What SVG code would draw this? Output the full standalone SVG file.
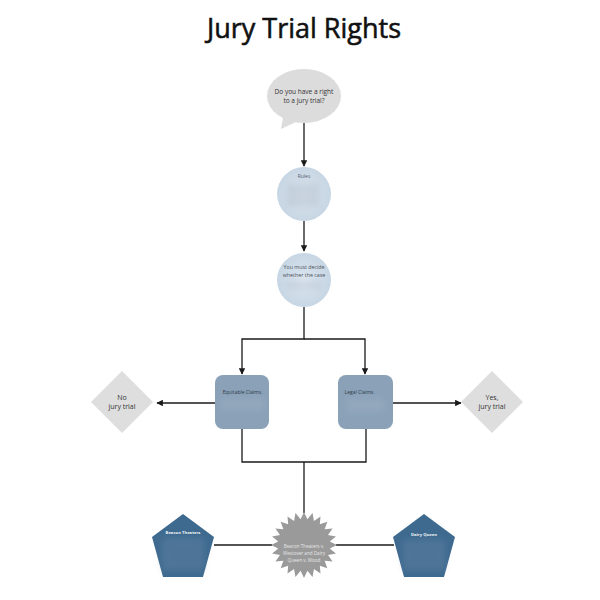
<svg xmlns="http://www.w3.org/2000/svg" width="600" height="600" viewBox="0 0 600 600">
<style>
.t{font-family:"Open Sans","Liberation Sans",sans-serif;text-anchor:middle}
.dk{fill:#333}
.wt{fill:#f4f6f8}
.ln{stroke:#1a1a1a;stroke-width:1.3;fill:none}
.blur{filter:url(#bl)}
</style>
<defs>
<marker id="ah" viewBox="0 0 10 10" refX="9" refY="5" markerWidth="5" markerHeight="5" orient="auto">
<path d="M0,0 L10,5 L0,10 z" fill="#1a1a1a"/>
</marker>
<radialGradient id="cg" cx="50%" cy="50%" r="50%">
<stop offset="0" stop-color="#dbe5ee"/>
<stop offset="1" stop-color="#c7d6e4"/>
</radialGradient>
<filter id="bl" x="-30%" y="-60%" width="160%" height="220%"><feGaussianBlur stdDeviation="3"/></filter>
</defs>
<rect width="600" height="600" fill="#ffffff"/>
<text class="t" x="304" y="38" font-size="27" fill="#111" stroke="#111" stroke-width="0.55">Jury Trial Rights</text>

<g id="connectors">
<line class="ln" x1="304" y1="123" x2="304" y2="166" marker-end="url(#ah)"/>
<line class="ln" x1="304" y1="221" x2="304" y2="251" marker-end="url(#ah)"/>
<polyline class="ln" points="304,307 304,339 242,339 242,374" marker-end="url(#ah)"/>
<polyline class="ln" points="304,339 365,339 365,374" marker-end="url(#ah)"/>
<line class="ln" x1="215" y1="403" x2="157" y2="403" marker-end="url(#ah)"/>
<line class="ln" x1="393" y1="403" x2="461" y2="403" marker-end="url(#ah)"/>
<polyline class="ln" points="242,429 242,462 366,462 366,429"/>
<line class="ln" x1="304" y1="462" x2="304" y2="513"/>
<line class="ln" x1="214" y1="545" x2="272" y2="545"/>
<line class="ln" x1="336" y1="545" x2="394" y2="545"/>
</g>

<g id="start">
<ellipse cx="304" cy="96" rx="37" ry="27" fill="#dcdcdc"/>
<path d="M284,112 L281,129 L298,121 z" fill="#dcdcdc"/>
<text class="t dk" x="304" y="94" font-size="6.5">Do you have a right</text>
<text class="t dk" x="304" y="103" font-size="6.5">to a jury trial?</text>
</g>

<g id="rules">
<circle cx="304" cy="194" r="27" fill="url(#cg)"/>
<text class="t" x="304" y="178" font-size="5" fill="#56606b">Rules</text>
<rect class="blur" x="287" y="184" width="32" height="22" fill="#aab6c2" opacity="0.35"/>
</g>

<g id="decide">
<circle cx="304" cy="280" r="27" fill="url(#cg)"/>
<text class="t" x="304" y="269" font-size="5.3" fill="#4a525a">You must decide</text>
<text class="t" x="304" y="277" font-size="5.3" fill="#4a525a">whether the case</text>
<rect class="blur" x="286" y="282" width="36" height="6" fill="#aab6c2" opacity="0.35"/>
</g>

<g id="equitable">
<rect x="215" y="375" width="54" height="54" rx="8" fill="#8aa1b8"/>
<text class="t" x="242" y="394" font-size="5" fill="#2e3a47">Equitable Claims</text>
<rect class="blur" x="220" y="398" width="44" height="12" fill="#9eb0c2" opacity="0.45"/>
</g>

<g id="legal">
<rect x="338" y="375" width="55" height="54" rx="8" fill="#8aa1b8"/>
<text class="t" x="359" y="394" font-size="5" fill="#2e3a47">Legal Claims</text>
<rect class="blur" x="346" y="398" width="38" height="14" fill="#9eb0c2" opacity="0.45"/>
</g>

<g id="no">
<polygon points="122,371 153,402 122,433 91,402" fill="#dedede"/>
<text class="t dk" x="122" y="400" font-size="7">No</text>
<text class="t dk" x="122" y="409" font-size="7">jury trial</text>
</g>

<g id="yes">
<polygon points="492,371 523,402 492,433 461,402" fill="#dedede"/>
<text class="t dk" x="492" y="400" font-size="7">Yes,</text>
<text class="t dk" x="492" y="409" font-size="7">jury trial</text>
</g>

<g id="beacon">
<polygon points="183,514 214,537 203,577 163,577 152,537" fill="#3f6a8f"/>
<text class="t wt" x="183" y="534" font-size="4.2" font-weight="bold">Beacon Theaters</text>
<rect class="blur" x="162" y="538" width="42" height="32" fill="#6a8cab" opacity="0.35"/>
</g>

<g id="case">
<polygon fill="#9a9a9a" points="304,512 307.39,519.22 312.54,513.12 313.95,520.98 320.5,516.42 319.83,524.37 327.33,521.67 324.63,529.17 332.58,528.5 328.02,535.05 335.88,536.46 329.78,541.61 337,545 329.78,548.39 335.88,553.54 328.02,554.95 332.58,561.5 324.63,560.83 327.33,568.33 319.83,565.63 320.5,573.58 313.95,569.02 312.54,576.88 307.39,570.78 304,578 300.61,570.78 295.46,576.88 294.05,569.02 287.5,573.58 288.17,565.63 280.67,568.33 283.37,560.83 275.42,561.5 279.98,554.95 272.12,553.54 278.22,548.39 271,545 278.22,541.61 272.12,536.46 279.98,535.05 275.42,528.5 283.37,529.17 280.67,521.67 288.17,524.37 287.5,516.42 294.05,520.98 295.46,513.12 300.61,519.22"/>
<text class="t" x="304" y="548" font-size="4.6" fill="#e8e8e8">Beacon Theaters v.</text>
<text class="t" x="304" y="555" font-size="4.6" fill="#e8e8e8">Westover and Dairy</text>
<text class="t" x="304" y="562" font-size="4.6" fill="#e8e8e8">Queen v. Wood</text>
</g>

<g id="dairy">
<polygon points="424,514 455,537 444,577 404,577 393,537" fill="#3f6a8f"/>
<text class="t wt" x="424" y="536" font-size="4.2" font-weight="bold">Dairy Queen</text>
<rect class="blur" x="403" y="540" width="42" height="30" fill="#6a8cab" opacity="0.35"/>
</g>
</svg>
